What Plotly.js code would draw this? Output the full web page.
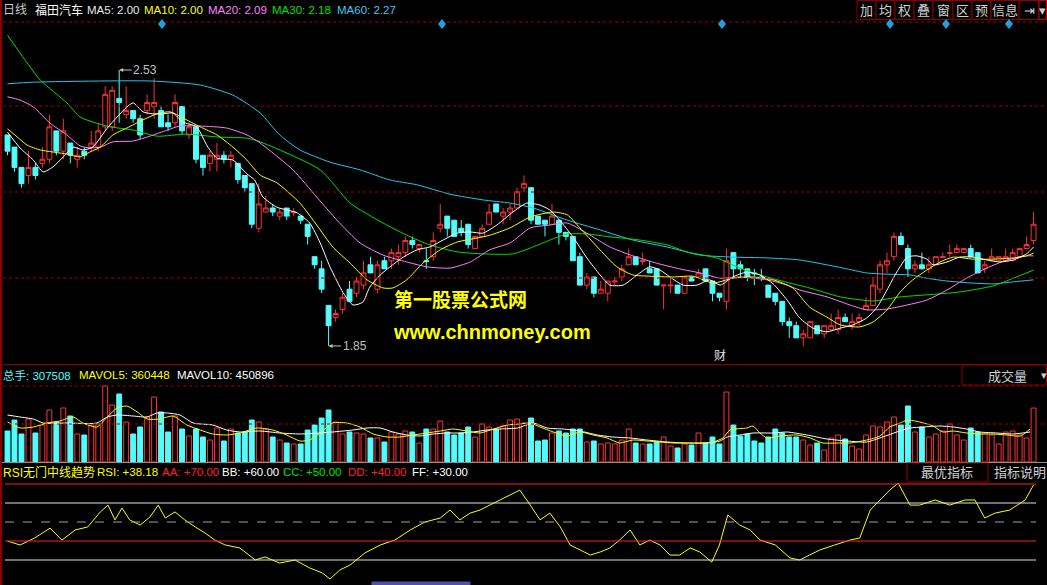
<!DOCTYPE html>
<html><head><meta charset="utf-8">
<script src="https://cdn.plot.ly/plotly-3.0.1.min.js"></script>
<style>html,body{margin:0;padding:0;background:#000;overflow:hidden}#chart{width:1047px;height:585px}</style>
</head><body><div id="chart"></div>
<script>
// ---------- DATA ----------
const openP = [2.37,2.34,2.29,2.27,2.29,2.30,2.31,2.38,2.33,2.35, 2.31,2.33,2.34,2.34,2.39,2.39,2.46,2.42,2.43,2.41,
 2.43,2.44,2.43,2.40,2.40,2.44,2.37,2.39,2.32,2.30, 2.31,2.32,2.31,2.30,2.27,2.25,2.14,2.18,2.19,2.17,
 2.19,2.178,2.17,2.15,2.07,2.04,1.95,1.92,1.94,1.99, 1.98,2.00,2.05,1.99,2.06,2.06,2.07,2.08,2.11,2.09,
 2.06,2.07,2.14,2.17,2.16,2.14,2.15,2.09,2.12,2.15, 2.20,2.17,2.18,2.19,2.24,2.24,2.17,2.16,2.15,2.16,
 2.13,2.12,2.07,2.00,2.02,1.98,1.98,2.008,2.02,2.05, 2.07,2.058,2.04,2.04,1.998,1.998,2.00,1.98,2.02,2.02,
 2.04,2.01,1.98,1.96,2.08,2.05,2.04,2.03,2.02,2.00, 1.98,1.96,1.91,1.90,1.87,1.87,1.90,1.88,1.89,1.89,
 1.92,1.90,1.91,1.94,1.95,1.99,2.05,2.07,2.12,2.09, 2.04,2.05,2.04,2.05,2.068,2.078,2.08,2.08,2.09,2.08,
 2.04,2.06,2.06,2.06,2.06,2.07,2.09,2.11];
const closeP = [2.33,2.29,2.25,2.29,2.27,2.31,2.39,2.33,2.38,2.32, 2.32,2.32,2.35,2.38,2.47,2.48,2.45,2.43,2.41,2.37,
 2.45,2.45,2.39,2.39,2.45,2.38,2.39,2.31,2.29,2.32, 2.32,2.31,2.32,2.26,2.24,2.15,2.20,2.19,2.18,2.18,
 2.17,2.18,2.16,2.12,2.05,1.99,1.90,1.93,1.97,1.96, 2.01,2.03,2.03,2.05,2.04,2.08,2.08,2.11,2.10,2.10,
 2.058,2.11,2.15,2.14,2.12,2.13,2.10,2.12,2.14,2.18, 2.18,2.18,2.19,2.23,2.25,2.16,2.15,2.15,2.17,2.13,
 2.12,2.06,2.00,2.02,1.98,1.99,2.01,2.01,2.04,2.07, 2.05,2.06,2.03,2.00,2.00,2.00,1.98,2.02,2.01,2.03,
 2.01,1.98,1.97,2.06,2.04,2.04,2.02,2.028,2.018,1.97, 1.96,1.91,1.90,1.87,1.88,1.91,1.88,1.90,1.90,1.92,
 1.91,1.91,1.92,1.95,2.00,2.05,2.06,2.12,2.10,2.04, 2.05,2.04,2.05,2.07,2.07,2.08,2.09,2.09,2.07,2.03,
 2.05,2.07,2.07,2.07,2.08,2.09,2.10,2.15];
const highP = [2.37,2.34,2.29,2.33,2.30,2.34,2.42,2.38,2.41,2.35, 2.34,2.34,2.38,2.40,2.49,2.49,2.53,2.49,2.43,2.42,
 2.47,2.51,2.44,2.42,2.47,2.44,2.40,2.39,2.32,2.33, 2.35,2.33,2.33,2.30,2.27,2.25,2.25,2.22,2.20,2.19,
 2.19,2.19,2.17,2.15,2.07,2.06,1.95,1.94,1.98,2.01, 2.02,2.06,2.07,2.06,2.07,2.09,2.10,2.12,2.12,2.10,
 2.09,2.13,2.20,2.17,2.16,2.16,2.15,2.12,2.15,2.20, 2.20,2.19,2.20,2.24,2.27,2.24,2.17,2.16,2.20,2.16,
 2.13,2.12,2.08,2.03,2.02,2.01,2.01,2.02,2.05,2.09, 2.07,2.08,2.06,2.04,2.00,2.02,2.00,2.02,2.02,2.04,
 2.04,2.01,1.98,2.09,2.08,2.06,2.04,2.04,2.04,2.00, 1.98,1.96,1.92,1.91,1.89,1.91,1.90,1.90,1.93,1.94,
 1.93,1.93,1.93,1.97,2.02,2.06,2.08,2.13,2.13,2.10, 2.06,2.08,2.07,2.07,2.08,2.10,2.10,2.09,2.10,2.08,
 2.06,2.09,2.07,2.09,2.09,2.09,2.12,2.18];
const lowP = [2.32,2.28,2.24,2.25,2.26,2.29,2.30,2.32,2.31,2.30, 2.29,2.31,2.33,2.33,2.38,2.38,2.40,2.41,2.40,2.36,
 2.42,2.41,2.39,2.38,2.39,2.37,2.36,2.30,2.27,2.28, 2.28,2.30,2.29,2.25,2.23,2.14,2.13,2.18,2.17,2.16,
 2.16,2.17,2.15,2.10,2.04,1.98,1.85,1.91,1.93,1.96, 1.97,1.99,2.03,1.98,2.04,2.04,2.05,2.07,2.09,2.08,
 2.04,2.06,2.13,2.12,2.12,2.12,2.09,2.09,2.12,2.15, 2.18,2.15,2.16,2.19,2.23,2.15,2.15,2.12,2.15,2.10,
 2.11,2.06,2.00,1.99,1.97,1.98,1.96,2.00,2.01,2.05, 2.05,2.05,2.03,2.00,1.94,1.98,1.98,1.98,2.01,2.02,
 2.01,1.96,1.96,1.94,2.02,2.02,2.01,2.00,2.01,1.97, 1.95,1.90,1.87,1.87,1.85,1.87,1.88,1.87,1.89,1.88,
 1.91,1.89,1.90,1.94,1.95,1.98,2.03,2.06,2.10,2.02, 2.03,2.04,2.03,2.05,2.07,2.07,2.08,2.08,2.07,2.03,
 2.03,2.06,2.06,2.06,2.06,2.07,2.09,2.10];
const volume = [176700,239400,159600,245100,165300,210900,296400,228000,307800,262200,
 159600,153900,210900,216600,433200,324900,387600,228000,159600,199500,
 256500,370500,285000,171000,262200,188100,148200,188100,142500,125400,
 193800,119700,188100,165300,171000,239400,228000,188100,142500,125400,
 108300,102600,102600,182400,210900,250800,296400,228000,159600,171000,
 165300,159600,136800,136800,114000,171000,159600,176700,171000,108300,
 188100,188100,233700,171000,153900,165300,199500,142500,216600,199500,
 188100,205200,239400,245100,222300,250800,119700,125400,165300,176700,
 165300,188100,188100,114000,119700,102600,108300,102600,125400,188100,
 108300,102600,102600,114000,142500,91200,79800,102600,96900,165300,
 108300,142500,102600,399000,210900,148200,159600,119700,108300,142500,
 188100,165300,142500,142500,125400,96900,108300,68400,136800,153900,
 131100,91200,74100,153900,205200,199500,228000,256500,210900,319200,
 171000,199500,142500,159600,176700,216600,153900,125400,193800,171000,
 165300,153900,102600,171000,176700,153900,136800,307508];

// moving averages: bar position -> value
const ma5X = [0,1.8,3.7,5.1,6.5,8,9.4,10.8,12.2,14.3,15.7,17.1,18,19.4,20.8,22.3,23.7,25.1,27.1,28.6,30,32.3,34.3,35.4,36.6,38.6,41.5,43.3,44.8,46.2,48.1,49.5,50.9,51.9,53.4,54.8,56.7,58.7,60.5,62.4,64.4,66.3,68.1,70.1,72.4,74.4,76.3,77.7,79.1,81,83,84.9,86.3,88.2,90.2,92,93.5,94.9,96.8,98.8,100.6,102.1,103.9,105.9,107.8,109.7,111.7,113.5,115.4,117.4,119.3,121.1,123.1,124.6,126,127.4,128.9,130.3,131.7,132.6,134.6,136.4,138.3,140.3,142.2,144.1,146,147];
const ma5 = [2.377,2.338,2.308,2.279,2.291,2.316,2.340,2.333,2.340,2.387,2.414,2.439,2.449,2.427,2.422,2.422,2.424,2.402,2.390,2.343,2.313,2.308,2.274,2.259,2.217,2.192,2.178,2.153,2.104,2.045,1.981,1.951,1.958,1.995,2.025,2.045,2.069,2.087,2.094,2.111,2.128,2.131,2.128,2.148,2.180,2.202,2.197,2.185,2.160,2.119,2.067,2.025,2.000,2.000,2.025,2.045,2.037,2.020,2.000,2.000,2.013,2.000,2.020,2.032,2.025,2.003,1.963,1.919,1.894,1.885,1.894,1.902,1.919,1.946,1.988,2.032,2.069,2.072,2.064,2.050,2.057,2.069,2.069,2.062,2.057,2.062,2.077,2.094];
const ma10X = [0,1.4,2.8,4.7,8.5,10.4,11.8,13.3,15.1,17.1,19.4,21.4,23.3,25.1,27.6,30,32.3,34.3,36.2,38.6,41.9,44.3,46.6,49.1,51.5,53.8,55.2,57.2,59.5,62,64.4,67.3,69.1,72,74.9,78.2,80.2,82,84.5,87.3,89.6,92,95.3,98.2,101.1,103.9,106.8,109.7,112.5,114.9,117.4,119.3,122.1,124,126,127.9,129.7,131.7,133.6,135.5,138.3,141.2,144.1,146,147];
const ma10 = [2.385,2.365,2.345,2.333,2.323,2.316,2.328,2.340,2.370,2.387,2.407,2.422,2.427,2.412,2.390,2.370,2.340,2.308,2.271,2.252,2.202,2.148,2.094,2.054,2.013,1.993,1.993,2.013,2.054,2.087,2.106,2.116,2.123,2.141,2.168,2.180,2.173,2.141,2.094,2.045,2.025,2.022,2.020,2.022,2.005,2.017,2.020,2.013,1.993,1.946,1.921,1.902,1.897,1.909,1.939,1.983,2.013,2.037,2.057,2.069,2.064,2.064,2.067,2.072,2.079];
const ma20X = [0,1.8,3.7,6.1,8.5,10.4,11.8,13.3,15.1,18,20.4,22.9,24.7,27.6,31.4,34.3,36.2,40.9,44.3,47.2,50.5,53.8,57.2,60.1,63.4,66.3,69.1,72,74.9,77.7,80.2,83,86.3,89.6,93,96.3,99.2,102.1,104.9,108.8,111.7,113.5,117.4,120.7,123.1,126,128.9,131.7,134.6,137.4,140.3,143.2,146,147];
const ma20 = [2.464,2.456,2.439,2.399,2.370,2.343,2.338,2.340,2.353,2.355,2.367,2.382,2.392,2.392,2.387,2.370,2.350,2.284,2.217,2.160,2.104,2.074,2.057,2.045,2.042,2.057,2.087,2.104,2.141,2.148,2.153,2.128,2.094,2.072,2.054,2.040,2.030,2.017,2.020,2.013,2.000,1.988,1.971,1.951,1.939,1.941,1.951,1.963,1.988,2.017,2.042,2.062,2.072,2.072];
const ma30X = [0,2.5,4.7,8.5,10.4,12.2,14.7,18,21.4,25.7,30,34.3,36.2,44.8,49.1,53.8,57.2,60.5,64.4,68.1,72.4,75.3,77.7,80.2,83,86.3,90.6,94.5,97.3,101.6,104.9,108.8,112.1,114.9,119.3,124,127.9,131.7,136.4,141.2,144.1,147];
const ma30 = [2.616,2.555,2.505,2.449,2.414,2.402,2.390,2.382,2.367,2.372,2.365,2.362,2.353,2.284,2.202,2.153,2.123,2.099,2.082,2.077,2.077,2.094,2.111,2.126,2.126,2.119,2.111,2.099,2.082,2.067,2.042,2.020,2.005,1.993,1.971,1.961,1.971,1.976,1.983,1.998,2.017,2.037];
const ma60X = [0,3.7,20.4,27.6,32.3,36.2,39,41.9,46.2,50.5,54.8,58.7,63.4,68.1,72,75.3,80.2,84.9,89.6,94.5,99.2,103.9,108.8,113.5,119.7,123.1,126,129.3,131.7,134.6,138.3,141.2,144.1,147];
const ma60 = [2.496,2.500,2.503,2.493,2.468,2.424,2.370,2.333,2.303,2.284,2.259,2.247,2.224,2.210,2.202,2.190,2.160,2.136,2.111,2.094,2.074,2.069,2.067,2.062,2.042,2.030,2.027,2.025,2.017,2.010,2.005,2.003,2.008,2.013];

const mavol5X = [0,1.8,3.7,5.7,7.5,9.4,10.8,12.8,14.3,15.7,17.1,18.6,20,21.8,23.7,25.7,27.6,29.4,31.4,33.3,35.7,38,40,41.9,43.3,44.8,46.6,48.6,50.5,52.4,54.4,56.2,58.1,60.1,62,63.8,65.8,67.7,69.6,71.6,73.4,74.9,76.3,78.2,80.2,82,83.9,85.9,87.7,89.6,91.6,93.5,95.3,97.3,99.2,101.1,102.5,103.5,105.9,106.8,107.8,108.8,110.7,113.1,115,116.8,118.8,120.7,123.1,125,126.4,127.9,128.9,130.7,132.6,134,135.5,137.4,139.3,141.2,143.2,145.1,146.5];
const mavol5 = [228000,193800,199500,222300,233700,256500,222300,199500,256500,307800,319200,285000,245100,245100,262200,210900,182400,159600,153900,165300,193800,182400,153900,119700,125400,165300,222300,222300,199500,159600,142500,142500,153900,165300,176700,188100,176700,165300,188100,210900,216600,222300,199500,171000,148200,171000,153900,136800,108300,125400,119700,114000,108300,108300,108300,114000,136800,182400,193800,205200,165300,136800,148200,153900,136800,108300,108300,108300,125400,148200,199500,222300,239400,228000,205200,171000,176700,165300,159600,159600,153900,148200,188100];
const mavol10X = [0,1.8,3.7,5.1,8.5,12.8,14.3,15.7,18,20,21.4,22.9,24.7,26.6,29.4,31.4,33.3,36.2,39,41.9,44.8,46.6,49.5,51.5,53.4,55.2,57.2,59.1,61,63,64.8,66.7,68.7,70.6,73.1,75.3,77.3,79.6,82,84.5,86.7,89.2,91.6,94.5,97.3,100.2,102.1,103.1,104.9,106.8,109.7,111.7,114.5,117.4,120.3,123.1,125.4,127.4,129.3,131.2,133.6,135.5,137.4,139.3,141.7,144.1,146.5];
const mavol10 = [267900,256500,245100,222300,222300,222300,256500,267900,262200,256500,279300,279300,267900,222300,210900,182400,171000,176700,165300,159600,165300,171000,182400,193800,193800,171000,153900,148200,159600,165300,165300,171000,182400,188100,193800,222300,193800,188100,176700,153900,142500,136800,125400,114000,108300,108300,119700,142500,153900,165300,165300,171000,153900,131100,119700,114000,142500,171000,193800,199500,205200,199500,188100,171000,165300,159600,171000];

const rsiX = [0,1.8,3.9,6.1,7.8,9.7,11.5,13.3,14.4,15.4,16.4,17.5,19,20.4,21.6,22.6,24,25.4,26.9,28.3,29.7,31.2,33.3,35.5,36.9,39,41.2,43.3,45.1,46.2,47.6,49.1,51.2,53.4,55.5,57.7,59.8,62,63.4,64.8,66.3,67.7,69.1,70.6,72,73.4,74.9,76.3,77.7,79.2,80.6,82,83.5,84.9,86.3,87.7,89.2,90.6,92,93.5,94.9,96.3,97.8,99.2,100.9,102,103.2,104.9,106.4,107.8,110,112.1,113.5,114.9,116.4,118.5,120.7,122.1,123.6,125,126.4,127.6,129.3,130.7,132.9,135,137.2,138.6,140,141.5,143.6,145.8,147];
const rsi = [40.0,37.9,41.6,46.8,40.5,45.8,47.4,55.3,58.9,51.1,57.4,51.1,48.4,52.6,58.9,52.1,55.3,51.1,47.4,44.2,40.5,37.9,36.3,30.0,31.6,28.4,30.0,25.8,23.2,20.0,24.7,27.4,33.7,37.9,40.5,45.8,50.0,52.1,56.3,51.1,54.7,56.3,58.9,61.6,64.2,66.8,58.9,51.1,54.7,47.4,37.9,35.3,32.6,34.2,36.3,40.5,45.8,37.9,40.5,37.9,32.6,32.6,36.3,34.2,28.9,37.9,53.7,48.4,45.8,40.5,37.9,31.1,30.0,32.6,35.3,37.9,40.5,41.6,56.3,61.6,66.8,70.5,58.9,58.9,61.6,58.9,61.6,61.6,52.1,54.7,56.3,61.6,69.5];
const rsiLevels = [70, 60, 50, 40, 30];

// ---------- LAYOUT HELPERS ----------
const W = 1047, H = 585;
const px = x => x / W, py = y => 1 - y / H;
const FONT = 'Liberation Sans, Arial, Noto Sans CJK SC, sans-serif';
const RED = '#ff3232', CYAN = '#54fcfc', GRID = '#a00000', BOX = '#8b0000';
const idx = openP.map((_, i) => i);
const isUp = idx.map(i => closeP[i] >= openP[i]);

const traces = [];
traces.push({type:'candlestick', x: idx, open: openP, high: highP, low: lowP, close: closeP,
  xaxis:'x', yaxis:'y', whiskerwidth:0, hoverinfo:'skip',
  increasing:{line:{color:RED, width:1}, fillcolor:'#000000'},
  decreasing:{line:{color:CYAN, width:1}, fillcolor:CYAN}});
const maLine = (x, y, color) => ({type:'scatter', mode:'lines', x, y, xaxis:'x', yaxis:'y', hoverinfo:'skip',
  line:{color, width:1, shape:'spline', smoothing:0.6}});
traces.push(maLine(ma60X, ma60, '#20c8f0'));
traces.push(maLine(ma30X, ma30, '#00e000'));
traces.push(maLine(ma20X, ma20, '#ff80ff'));
traces.push(maLine(ma10X, ma10, '#ffff00'));
traces.push(maLine(ma5X, ma5, '#ffffff'));

traces.push({type:'bar', x: idx, y: volume, xaxis:'x', yaxis:'y2', width:0.7, hoverinfo:'skip',
  marker:{color: isUp.map(u => u ? '#000000' : CYAN), line:{color: isUp.map(u => u ? RED : CYAN), width:1}}});
traces.push({type:'scatter', mode:'lines', x: mavol10X, y: mavol10, xaxis:'x', yaxis:'y2', hoverinfo:'skip', line:{color:'#ffffff', width:1, shape:'spline', smoothing:0.6}});
traces.push({type:'scatter', mode:'lines', x: mavol5X, y: mavol5, xaxis:'x', yaxis:'y2', hoverinfo:'skip', line:{color:'#ffff00', width:1, shape:'spline', smoothing:0.6}});

traces.push({type:'scatter', mode:'lines', x: rsiX, y: rsi, xaxis:'x', yaxis:'y3', hoverinfo:'skip', line:{color:'#ffff00', width:1}});

// ---------- SHAPES ----------
const shapes = [];
const hline = (y, color, dash, x0, x1) => ({type:'line', xref:'paper', yref:'paper', x0: px(x0 || 0), x1: px(x1 || W), y0: py(y), y1: py(y), line:{color, width:1, dash: dash || 'solid'}});
[22, 106, 192, 278].forEach(y => shapes.push(hline(y, GRID, 'dot', 3, W)));
shapes.push(hline(364.5, BOX, 'solid'));
[386, 424].forEach(y => shapes.push(hline(y, GRID, 'dot', 3, W)));
shapes.push(hline(462.5, '#909090', 'solid'));
const lvlColors = ['#ff2020', '#e0e0e0', '#a0a0a0', '#ff2020', '#e0e0e0'];
const lvlDash = ['solid', 'solid', 'dash', 'solid', 'solid'];
rsiLevels.forEach((v, k) => shapes.push({type:'line', xref:'paper', yref:'y3', x0: px(5), x1: px(1036), y0: v, y1: v, line:{color: lvlColors[k], width:1, dash: lvlDash[k]}}));
shapes.push({type:'line', xref:'paper', yref:'paper', x0: px(1), x1: px(1), y0: 0, y1: 1, line:{color: BOX, width:2}});
const rect = (x0, y0, x1, y1, color, fill) => ({type:'rect', xref:'paper', yref:'paper', x0: px(x0), x1: px(x1), y0: py(y1), y1: py(y0), line:{color, width:1}, fillcolor: fill || 'rgba(0,0,0,0)'});
const btnEdges = [857, 876, 895, 914, 933, 953, 972, 991, 1019, 1039, 1046.5];
for (let k = 0; k < btnEdges.length - 1; k++) shapes.push(rect(btnEdges[k], 0.5, btnEdges[k+1], 19.5, k === btnEdges.length - 2 ? '#d00000' : BOX, '#000'));
shapes.push(rect(962, 365, 1046.5, 385, BOX, '#000'));
shapes.push(rect(907, 463, 988, 482, BOX, '#000'));
[162, 442, 722, 890, 946, 1009].forEach(x => shapes.push({type:'path', xref:'paper', yref:'paper',
  path: `M ${px(x)} ${py(19)} L ${px(x+4)} ${py(24)} L ${px(x)} ${py(29)} L ${px(x-4)} ${py(24)} Z`, fillcolor:'#20a0e0', line:{width:0}}));
shapes.push(rect(372, 582, 470, 585, '#5050b0', '#5050b0'));

// ---------- ANNOTATIONS ----------
const T = (x, y, text, color, size, extra) => Object.assign({xref:'paper', yref:'paper', x: px(x), y: py(y), text, showarrow:false,
  xanchor:'left', yanchor:'middle', font:{family: FONT, size: size || 11.5, color}}, extra || {});
const ann = [];
ann.push(T(1, 10, '日线', '#c8c8c8', 12));
ann.push(T(33, 10, '福田汽车', '#ffffff', 12));
ann.push(T(85, 10, 'MA5: 2.00', '#e8e8e8'));
ann.push(T(142, 10, 'MA10: 2.00', '#ffff00'));
ann.push(T(206, 10, 'MA20: 2.09', '#ff80ff'));
ann.push(T(270, 10, 'MA30: 2.18', '#00e000'));
ann.push(T(335, 10, 'MA60: 2.27', '#40c8f0'));
const btnLabels = ['加', '均', '权', '叠', '窗', '区', '预', '信息', '⇥', '▾'];
btnLabels.forEach((t, k) => ann.push(T((btnEdges[k] + btnEdges[k+1]) / 2, 10, t, '#d0d0d0', 13, {xanchor:'center'})));

ann.push(T(1, 375, '总手: 307508', CYAN));
ann.push(T(77, 375, 'MAVOL5: 360448', '#ffff00'));
ann.push(T(175, 375, 'MAVOL10: 450896', '#ffffff'));
ann.push(T(1007, 376, '成交量', '#d0d0d0', 13, {xanchor:'center'}));
ann.push(T(1044, 375, '▾', '#d0d0d0', 11, {xanchor:'center'}));

ann.push(T(1, 472, 'RSI无门中线趋势', '#ffff00', 12));
ann.push(T(95, 472, 'RSI: +38.18', '#ffff00'));
ann.push(T(160, 472, 'AA: +70.00', '#ff2020'));
ann.push(T(220, 472, 'BB: +60.00', '#ffffff'));
ann.push(T(281, 472, 'CC: +50.00', '#00e000'));
ann.push(T(346, 472, 'DD: +40.00', '#ff2020'));
ann.push(T(410, 472, 'FF: +30.00', '#ffffff'));
ann.push(T(947, 472, '最优指标', '#d0d0d0', 13, {xanchor:'center'}));
ann.push(T(1020, 472, '指标说明', '#d0d0d0', 13, {xanchor:'center'}));

ann.push(T(720, 356, '财', '#e0e0e0', 12, {xanchor:'center'}));
ann.push(T(392, 298, '<b>第一股票公式网</b>', '#ffff00', 19, {font:{family:'Noto Sans CJK SC, sans-serif', size:19, color:'#ffff00'}}));
ann.push(T(391, 332, '<b>www.chnmoney.com</b>', '#ffff00', 20, {font:{family:'Liberation Sans, Arial, sans-serif', size:20, color:'#ffff00'}}));

ann.push({xref:'x', yref:'y', x: 16, y: 2.53, text:'2.53', showarrow:true, ax: 26, ay: 0, arrowhead:2, arrowsize:0.8, arrowwidth:1, arrowcolor:'#c0c0c0', standoff:0,
  font:{family: FONT, size:12, color:'#c0c0c0'}});
ann.push({xref:'x', yref:'y', x: 46, y: 1.85, text:'1.85', showarrow:true, ax: 26, ay: 0, arrowhead:2, arrowsize:0.8, arrowwidth:1, arrowcolor:'#c0c0c0', standoff:0,
  font:{family: FONT, size:12, color:'#c0c0c0'}});

const xr = [-7.5 / 6.98, (W - 7.5) / 6.98];
const layout = {
  width: W, height: H, margin:{l:0, r:0, t:0, b:0}, paper_bgcolor:'#000', plot_bgcolor:'#000', showlegend:false,
  boxgap: 0.3, boxgroupgap: 0, bargap: 0.3,
  xaxis:{range: xr, visible:false, fixedrange:true, rangeslider:{visible:false}, anchor:'y3'},
  yaxis:{domain:[py(364), py(22)], range:[2.7025 - 0.002464 * 364, 2.7025 - 0.002464 * 22], visible:false, fixedrange:true, anchor:'x'},
  yaxis2:{domain:[py(462), py(365)], range:[0, 97 * 5700], visible:false, fixedrange:true, anchor:'x'},
  yaxis3:{domain:[0, py(463)], range:[70 - (585 - 484) / 1.9, 70 + (484 - 463) / 1.9], visible:false, fixedrange:true, anchor:'x'},
  shapes, annotations: ann
};
Plotly.newPlot('chart', traces, layout, {staticPlot:true, displayModeBar:false});
</script>
</body></html>
